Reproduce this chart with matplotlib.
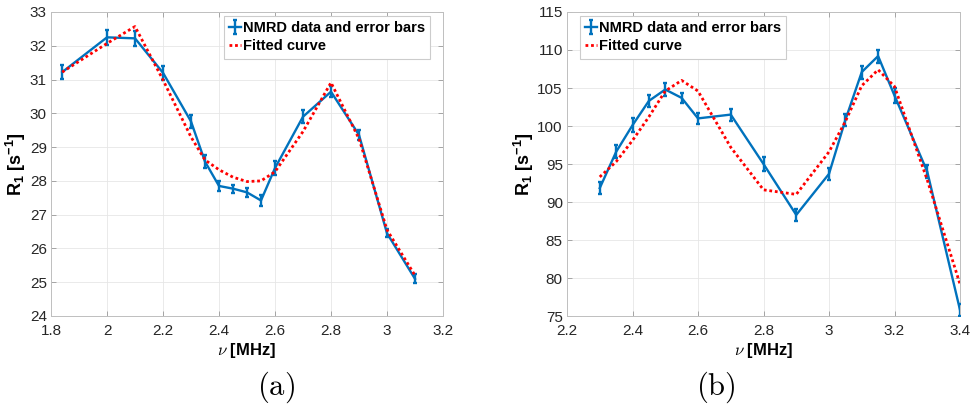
import matplotlib
matplotlib.use("Agg")
import matplotlib.pyplot as plt
from matplotlib import font_manager
from matplotlib.ticker import FuncFormatter

# NMRD profile, sample (a)
freq_a = [1.84, 2.0, 2.1, 2.2, 2.3, 2.35, 2.4, 2.45, 2.5, 2.55, 2.6, 2.7, 2.8, 2.9, 3.0, 3.1]
r1_a = [31.22, 32.25, 32.22, 31.2, 29.76, 28.57, 27.85, 27.77, 27.66, 27.42,
        28.38, 29.9, 30.64, 29.36, 26.45, 25.1]
err_a = [0.21, 0.22, 0.22, 0.2, 0.2, 0.2, 0.15, 0.12, 0.14, 0.17,
         0.2, 0.2, 0.16, 0.14, 0.12, 0.13]
fit_a = [31.22, 32.07, 32.57, 30.99, 29.3, 28.62, 28.33, 28.11, 27.98, 28.0,
         28.27, 29.46, 30.91, 29.25, 26.55, 25.2]

# NMRD profile, sample (b)
freq_b = [2.3, 2.35, 2.4, 2.45, 2.5, 2.55, 2.6, 2.7, 2.8, 2.9, 3.0, 3.05, 3.1, 3.15, 3.2, 3.3, 3.4]
r1_b = [91.83, 96.6, 100.1, 103.3, 104.8, 103.7, 101.0, 101.5, 95.0, 88.3,
        93.7, 100.8, 107.1, 109.2, 104.0, 94.0, 75.8]
err_b = [0.75, 0.85, 0.9, 0.8, 0.85, 0.7, 0.7, 0.8, 0.9, 0.75,
         0.75, 0.75, 0.85, 0.85, 1.0, 0.9, 0.8]
fit_b = [93.3, 95.3, 98.1, 101.2, 104.6, 106.0, 104.6, 97.2, 91.6, 91.0,
         96.6, 100.6, 105.3, 107.4, 105.2, 92.9, 79.2]

xticks_a = [1.8, 2.0, 2.2, 2.4, 2.6, 2.8, 3.0, 3.2]
yticks_a = [24, 25, 26, 27, 28, 29, 30, 31, 32, 33]
xticks_b = [2.2, 2.4, 2.6, 2.8, 3.0, 3.2, 3.4]
yticks_b = [75, 80, 85, 90, 95, 100, 105, 110, 115]

BLUE = "#0072BD"

installed = {f.name for f in font_manager.fontManager.ttflist}
sans = "Liberation Sans Narrow" if "Liberation Sans Narrow" in installed else "Liberation Sans"
plt.rcParams["font.family"] = [sans, "DejaVu Sans"]
plt.rcParams["mathtext.fontset"] = "custom"
plt.rcParams["mathtext.rm"] = sans + ":bold"
plt.rcParams["mathtext.bf"] = sans + ":bold"
plt.rcParams["mathtext.it"] = sans + ":bold"

fig = plt.figure(figsize=(9.71, 4.09), dpi=100)
ax_a = fig.add_axes([51 / 971, 93 / 409, 392 / 971, 304 / 409])
ax_b = fig.add_axes([567 / 971, 93 / 409, 393 / 971, 304 / 409])

fmt = FuncFormatter(lambda v, pos: f"{v:g}")


def draw_panel(ax, x, y, err, fit, xticks, yticks, tag, legend_loc, anchor):
    data = ax.errorbar(x, y, yerr=err, color=BLUE, lw=1.7, elinewidth=1.7,
                       capsize=1.7, capthick=1.7, zorder=3)
    curve, = ax.plot(x, fit, color="red", ls=(0, (1, 1)), lw=2.0, zorder=4)

    ax.set_xlim(xticks[0], xticks[-1])
    ax.set_ylim(yticks[0], yticks[-1])
    ax.set_xticks(xticks)
    ax.set_yticks(yticks)
    ax.xaxis.set_major_formatter(fmt)
    ax.yaxis.set_major_formatter(fmt)
    ax.grid(True, color="0.9", lw=0.6)
    ax.set_axisbelow(True)
    ax.tick_params(direction="in", length=3.5, width=0.6, color="0.6",
                   labelcolor="0.15", labelsize=11, top=True, right=True,
                   labeltop=False, labelright=False)
    ax.tick_params(axis="x", pad=6)
    ax.tick_params(axis="y", pad=3)
    for s in ax.spines.values():
        s.set_color("0.75")
        s.set_linewidth(0.7)

    ax.set_xlabel(r"$\nu$ [MHz]", fontsize=12, fontweight="bold",
                  math_fontfamily="cm", labelpad=2)
    ax.set_ylabel(r"R$_1$ [s$^{-1}$]", fontsize=13, fontweight="bold",
                  labelpad=1)

    leg = ax.legend([data, curve], ["NMRD data and error bars", "Fitted curve"],
                    loc=legend_loc, bbox_to_anchor=anchor, borderaxespad=0,
                    fancybox=False, framealpha=1, edgecolor="0.8",
                    handlelength=0.8, handletextpad=0.15, borderpad=0.35,
                    labelspacing=0.3, prop={"family": [sans, "DejaVu Sans"],
                                            "weight": "bold", "size": 10.5})
    leg.get_frame().set_linewidth(0.8)

    ax.text(0.5 + tag[1], -0.235, tag[0], transform=ax.transAxes,
            ha="center", va="center", fontsize=22, math_fontfamily="cm")


draw_panel(ax_a, freq_a, r1_a, err_a, fit_a, xticks_a, yticks_a,
           (r"$\mathrm{(a)}$", 0.074), "upper right", (0.967, 0.987))
draw_panel(ax_b, freq_b, r1_b, err_b, fit_b, xticks_b, yticks_b,
           (r"$\mathrm{(b)}$", -0.122), "upper left", (0.033, 0.987))

fig.savefig("out.png", dpi=100)
